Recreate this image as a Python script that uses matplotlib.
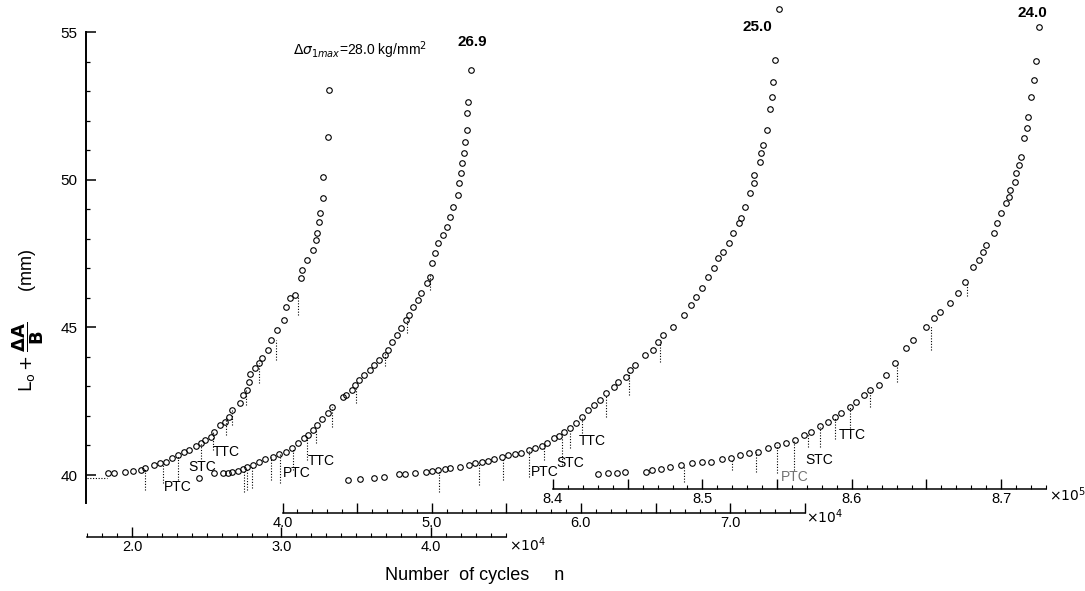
import numpy as np
import matplotlib.pyplot as plt
from matplotlib.ticker import FixedLocator, FixedFormatter

plt.rcParams.update({
    'font.family': ['Liberation Sans', 'DejaVu Sans'],
    'mathtext.fontset': 'dejavusans',
    'xtick.direction': 'in', 'ytick.direction': 'in',
})

# --- data ---
# curve 1: d-sigma 28.0, n in 1e4 (scale A)
c1_n = [1.84, 1.88, 1.95, 2.01, 2.06, 2.09, 2.15, 2.19, 2.23, 2.27, 2.31, 2.35, 2.38, 2.43, 2.46,
        2.49, 2.53, 2.55, 2.59, 2.62, 2.65, 2.67, 2.72, 2.74, 2.77, 2.78, 2.79, 2.82, 2.85, 2.87, 2.91,
        2.93, 2.97, 3.02, 3.03, 3.06, 3.09, 3.13, 3.14, 3.17, 3.21, 3.23, 3.24, 3.25, 3.26, 3.28,
        3.28, 3.31, 3.32]
c1_L = [40.06, 40.08, 40.11, 40.14, 40.17, 40.23, 40.34, 40.40, 40.45, 40.56, 40.68, 40.79, 40.85, 40.98, 41.07,
        41.19, 41.30, 41.47, 41.69, 41.81, 41.98, 42.20, 42.43, 42.71, 42.88, 43.15, 43.42, 43.61, 43.78, 43.95, 44.24,
        44.58, 44.92, 45.25, 45.71, 45.99, 46.10, 46.67, 46.95, 47.29, 47.63, 47.97, 48.19, 48.59, 48.87, 49.38,
        50.11, 51.46, 53.05]
c1_lead_n = [1.70, 1.83]
c1_lead_L = [39.90, 39.90]

# curve 2: d-sigma 26.9, n in 1e4 (scale A)
c2_n = [2.45, 2.55, 2.61, 2.64, 2.67, 2.71, 2.74, 2.77, 2.81, 2.85, 2.89, 2.94, 2.98, 3.03, 3.07,
        3.11, 3.15, 3.18, 3.21, 3.24, 3.27, 3.31, 3.34, 3.41, 3.43, 3.47, 3.49, 3.52, 3.55, 3.59,
        3.62, 3.65, 3.69, 3.71, 3.74, 3.77, 3.80, 3.83, 3.85, 3.88, 3.91, 3.93, 3.97, 3.99, 4.01,
        4.03, 4.05, 4.08, 4.11, 4.13, 4.15, 4.18, 4.19, 4.20, 4.21, 4.22, 4.23, 4.24, 4.24, 4.25, 4.27]
c2_L = [39.89, 40.08, 40.08, 40.08, 40.11, 40.14, 40.19, 40.28, 40.34, 40.45, 40.53, 40.62, 40.71, 40.79, 40.91,
        41.07, 41.24, 41.36, 41.53, 41.69, 41.89, 42.09, 42.32, 42.65, 42.71, 42.88, 43.05, 43.22, 43.39, 43.56,
        43.73, 43.90, 44.07, 44.24, 44.52, 44.75, 44.97, 45.25, 45.42, 45.71, 45.93, 46.16, 46.50, 46.72, 47.18,
        47.52, 47.85, 48.14, 48.42, 48.76, 49.09, 49.49, 49.89, 50.23, 50.57, 50.91, 51.30, 51.69, 52.26, 52.65, 53.73]

# curve 3: d-sigma 25.0, n in 1e4 (scale B)
c3_n = [4.44, 4.52, 4.61, 4.68, 4.78, 4.82, 4.89, 4.96, 5.00, 5.04, 5.09, 5.12, 5.19, 5.25, 5.29,
        5.34, 5.38, 5.42, 5.47, 5.51, 5.56, 5.60, 5.65, 5.69, 5.74, 5.77, 5.82, 5.85, 5.89, 5.93,
        5.97, 6.01, 6.05, 6.09, 6.13, 6.17, 6.22, 6.25, 6.30, 6.33, 6.36, 6.43, 6.48, 6.52, 6.55,
        6.62, 6.69, 6.74, 6.77, 6.81, 6.85, 6.89, 6.92, 6.95, 6.99, 7.02, 7.06, 7.07, 7.10, 7.13,
        7.16, 7.16, 7.20, 7.21, 7.22, 7.25, 7.27, 7.28, 7.29, 7.30, 7.33]
c3_L = [39.83, 39.85, 39.89, 39.92, 40.03, 40.03, 40.06, 40.09, 40.14, 40.17, 40.19, 40.23, 40.28, 40.34, 40.40,
        40.43, 40.48, 40.54, 40.62, 40.68, 40.71, 40.76, 40.85, 40.93, 40.99, 41.07, 41.24, 41.32, 41.47, 41.60,
        41.75, 41.98, 42.20, 42.37, 42.54, 42.77, 42.99, 43.16, 43.33, 43.56, 43.73, 44.07, 44.24, 44.52, 44.75,
        45.03, 45.42, 45.76, 46.04, 46.33, 46.72, 47.01, 47.35, 47.57, 47.85, 48.19, 48.53, 48.70, 49.09, 49.55,
        49.89, 50.17, 50.62, 50.91, 51.19, 51.69, 52.40, 52.82, 53.33, 54.07, 55.79]

# curve 4: d-sigma 24.0, n in 1e5 (scale C)
c4_n = [8.430, 8.437, 8.443, 8.448, 8.462, 8.466, 8.472, 8.478, 8.486, 8.493, 8.500, 8.506, 8.513, 8.519, 8.525,
        8.531, 8.537, 8.544, 8.550, 8.556, 8.562, 8.568, 8.573, 8.579, 8.584, 8.589, 8.593, 8.599, 8.603, 8.608,
        8.612, 8.618, 8.623, 8.629, 8.636, 8.641, 8.650, 8.655, 8.659, 8.666, 8.671, 8.676, 8.681, 8.685, 8.688,
        8.690, 8.695, 8.697, 8.700, 8.703, 8.705, 8.706, 8.709, 8.710, 8.712, 8.713, 8.715, 8.717, 8.718, 8.720,
        8.722, 8.723, 8.725]
c4_L = [40.03, 40.06, 40.06, 40.11, 40.11, 40.17, 40.19, 40.26, 40.34, 40.40, 40.45, 40.45, 40.53, 40.57, 40.68,
        40.74, 40.79, 40.91, 41.02, 41.09, 41.19, 41.36, 41.47, 41.66, 41.81, 41.98, 42.09, 42.32, 42.48, 42.71,
        42.88, 43.05, 43.39, 43.79, 44.29, 44.58, 45.03, 45.31, 45.54, 45.82, 46.16, 46.54, 47.06, 47.29, 47.57,
        47.80, 48.19, 48.53, 48.87, 49.21, 49.43, 49.66, 49.94, 50.23, 50.51, 50.79, 51.41, 51.75, 52.15, 52.82,
        53.39, 54.04, 55.20]

# dotted drop marks (n, top, bottom)
d1_n = [2.09, 2.21, 2.31, 2.46, 2.54, 2.63, 2.67, 2.76, 2.85, 2.96, 3.11]
d1_top = [40.24, 40.41, 40.68, 41.08, 41.45, 41.97, 42.20, 42.88, 43.80, 44.58, 46.03]
d1_bot = [39.49, 39.73, 39.83, 40.17, 40.85, 41.36, 41.69, 42.37, 43.12, 43.90, 45.42]
d2_n = [2.75, 2.77, 2.80, 2.93, 2.99, 3.08, 3.17, 3.23, 3.34, 3.50, 3.69, 3.84, 3.99]
d2_top = [40.17, 40.24, 40.31, 40.61, 40.71, 40.92, 41.29, 41.53, 42.31, 42.95, 44.17, 45.25, 46.78]
d2_bot = [39.42, 39.49, 39.56, 39.83, 39.73, 40.17, 40.51, 41.08, 41.63, 42.44, 43.69, 44.81, 46.27]
d3_n = [5.05, 5.32, 5.48, 5.65, 5.75, 5.87, 5.93, 6.01, 6.17, 6.32, 6.53]
d3_top = [40.15, 40.41, 40.54, 40.85, 41.05, 41.29, 41.50, 41.97, 42.70, 43.50, 44.51]
d3_bot = [39.42, 39.66, 39.83, 39.93, 40.51, 40.34, 40.92, 41.42, 41.97, 42.71, 43.83]
d4_n = [8.488, 8.520, 8.536, 8.550, 8.561, 8.571, 8.579, 8.589, 8.599, 8.612, 8.630, 8.653, 8.677]
d4_top = [40.31, 40.51, 40.78, 41.02, 41.15, 41.39, 41.63, 41.97, 42.30, 42.88, 43.76, 45.10, 46.50]
d4_bot = [39.76, 40.17, 40.10, 40.07, 40.17, 40.95, 40.95, 41.22, 41.59, 42.31, 43.15, 44.24, 46.07]

# tick labels of the three n scales
a_ticks = [2.0, 3.0, 4.0]
a_labels = ['2.0', '3.0', '4.0']
b_ticks = [4.0, 4.5, 5.0, 5.5, 6.0, 6.5, 7.0, 7.5]
b_labels = ['4.0', '', '5.0', '', '6.0', '', '7.0', '']
c_ticks = [8.40, 8.45, 8.50, 8.55, 8.60, 8.65, 8.70]
c_labels = ['8.4', '', '8.5', '', '8.6', '', '8.7']
y_ticks = [40, 45, 50, 55]
y_labels = ['40', '45', '50', '55']

# --- figure ---
W, H = 1085, 591
fig = plt.figure(figsize=(W / 100, H / 100), dpi=100)
rect = [86 / W, 1 - 503 / H, (1060 - 86) / W, 503 / H]
axA = fig.add_axes(rect)
axB = fig.add_axes(rect, sharey=axA)
axC = fig.add_axes(rect, sharey=axA)

axA.set_ylim(39.051, 56.10)
axA.set_xlim(1.6923, 8.2074)
axB.set_xlim(2.683, 9.211)
axC.set_xlim(8.08742, 8.73936)

for ax in (axA, axB, axC):
    ax.spines['top'].set_visible(False)
    ax.spines['right'].set_visible(False)
    ax.grid(False)
for ax in (axB, axC):
    ax.patch.set_visible(False)
    ax.spines['left'].set_visible(False)
    ax.tick_params(axis='y', which='both', left=False, labelleft=False)

px = 0.72  # points per pixel
axA.spines['left'].set_bounds(39.05, 55)
axA.spines['left'].set_linewidth(1.4)
axA.yaxis.set_major_locator(FixedLocator(y_ticks))
axA.yaxis.set_major_formatter(FixedFormatter(y_labels))
axA.yaxis.set_minor_locator(FixedLocator(np.arange(40, 56, 1)))
axA.tick_params(axis='y', which='major', length=7, width=1.1, labelsize=11, pad=6)
axA.tick_params(axis='y', which='minor', length=3, width=0.9)

axA.spines['bottom'].set_position(('outward', 34 * px))
axA.spines['bottom'].set_bounds(1.7, 4.5)
axA.xaxis.set_major_locator(FixedLocator(a_ticks))
axA.xaxis.set_major_formatter(FixedFormatter(a_labels))
axA.xaxis.set_minor_locator(FixedLocator(np.arange(1.7, 4.51, 0.1)))

axB.spines['bottom'].set_position(('outward', 10 * px))
axB.spines['bottom'].set_bounds(4.0, 7.5)
axB.xaxis.set_major_locator(FixedLocator(b_ticks))
axB.xaxis.set_major_formatter(FixedFormatter(b_labels))
axB.xaxis.set_minor_locator(FixedLocator(np.arange(4.0, 7.51, 0.1)))

axC.spines['bottom'].set_position(('data', 39.525))
axC.spines['bottom'].set_bounds(8.4, 8.73)
axC.xaxis.set_major_locator(FixedLocator(c_ticks))
axC.xaxis.set_major_formatter(FixedFormatter(c_labels))
axC.xaxis.set_minor_locator(FixedLocator(np.arange(8.40, 8.731, 0.01)))

for ax in (axA, axB, axC):
    ax.spines['bottom'].set_linewidth(1.1)
    ax.tick_params(axis='x', which='major', length=7, width=1.0, labelsize=10.5, pad=2)
    ax.tick_params(axis='x', which='minor', length=3, width=0.8)

mk = dict(ls='none', marker='o', ms=4, mfc='none', mec='black', mew=0.8)
dot = dict(color='black', lw=0.8, ls=(0, (1, 1.5)))

axA.plot(c1_n, c1_L, **mk)
axA.plot(c1_lead_n, c1_lead_L, **dot)
axA.plot(c2_n, c2_L, **mk)
axB.plot(c3_n, c3_L, **mk)
axC.plot(c4_n, c4_L, **mk)

axA.vlines(d1_n, d1_bot, d1_top, **dot)
axA.vlines(d2_n, d2_bot, d2_top, **dot)
axB.vlines(d3_n, d3_bot, d3_top, **dot)
axC.vlines(d4_n, d4_bot, d4_top, **dot)

# stage labels
lab = dict(ha='center', va='center', fontsize=10)
axA.text(2.308, 39.59, 'PTC', **lab)
axA.text(2.468, 40.27, 'STC', **lab)
axA.text(2.629, 40.78, 'TTC', **lab)
axA.text(3.104, 40.07, 'PTC', **lab)
axA.text(3.264, 40.47, 'TTC', **lab)
axB.text(5.759, 40.10, 'PTC', **lab)
axB.text(5.927, 40.41, 'STC', **lab)
axB.text(6.074, 41.15, 'TTC', **lab)
axC.text(8.562, 39.93, 'PTC', color='0.45', **lab)
axC.text(8.578, 40.51, 'STC', **lab)
axC.text(8.600, 41.36, 'TTC', **lab)

# stress amplitude labels
axA.text(3.077, 54.41, r'$\Delta\sigma_{1max}$=28.0 kg/mm$^2$', fontsize=10, va='center')
axA.text(4.174, 54.68, '26.9', fontsize=11, fontweight='bold', va='center')
axB.text(7.086, 55.19, '25.0', fontsize=11, fontweight='bold', va='center')
axC.text(8.7112, 55.66, '24.0', fontsize=11, fontweight='bold', va='center')

# scale multipliers
axA.annotate(r'$\times10^4$', xy=(4.5, 0), xycoords=('data', 'axes fraction'),
             xytext=(2, -30), textcoords='offset points', fontsize=10, va='center')
axB.annotate(r'$\times10^4$', xy=(7.5, 0), xycoords=('data', 'axes fraction'),
             xytext=(1, -10), textcoords='offset points', fontsize=10, va='center')
axC.annotate(r'$\times10^5$', xy=(8.73, 0), xycoords=('data', 'axes fraction'),
             xytext=(2, 6), textcoords='offset points', fontsize=10, va='center')

fig.text(385 / W, 1 - 575 / H, 'Number  of cycles     n', fontsize=13, va='center')
fig.text(28 / W, 1 - 320 / H, r'$\mathrm{L_o} + \dfrac{\mathbf{\Delta A}}{\mathbf{B}}$      (mm)',
         rotation=90, ha='center', va='center', fontsize=13)

fig.savefig('out.png', dpi=100)
